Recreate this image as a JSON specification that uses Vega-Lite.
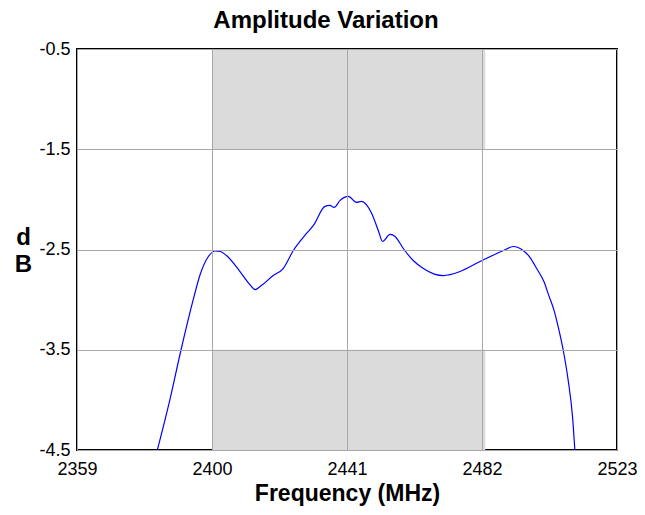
{
  "$schema": "https://vega.github.io/schema/vega-lite/v6.json",
  "width": 540,
  "height": 401,
  "autosize": {"type": "none"},
  "padding": {"left": 77, "top": 49, "right": 28, "bottom": 65},
  "background": "white",
  "config": {
    "view": {"stroke": "#000000", "strokeWidth": 2},
    "font": "Liberation Sans"
  },
  "title": {
    "text": "Amplitude Variation",
    "fontSize": 24,
    "fontWeight": "bold",
    "font": "Liberation Sans",
    "color": "#000000",
    "anchor": "middle",
    "baseline": "alphabetic",
    "offset": 16,
    "dx": -21,
    "dy": 28
  },
  "datasets": {
    "bands": [
      {"x1": 2400, "x2": 2483, "y1": -1.5, "y2": -0.5},
      {"x1": 2400, "x2": 2483, "y1": -4.5, "y2": -3.5}
    ],
    "curve": [
      {"f": 2383.4, "db": -4.5},
      {"f": 2387.2, "db": -4.0},
      {"f": 2390.6, "db": -3.5},
      {"f": 2394.3, "db": -3.0},
      {"f": 2396.4, "db": -2.75},
      {"f": 2398.9, "db": -2.57},
      {"f": 2400.9, "db": -2.515},
      {"f": 2402.5, "db": -2.52},
      {"f": 2404.4, "db": -2.56},
      {"f": 2408.5, "db": -2.72},
      {"f": 2411.5, "db": -2.85},
      {"f": 2413.1, "db": -2.90},
      {"f": 2415.0, "db": -2.86},
      {"f": 2418.6, "db": -2.76},
      {"f": 2421.6, "db": -2.69},
      {"f": 2424.7, "db": -2.51},
      {"f": 2428.7, "db": -2.34},
      {"f": 2430.8, "db": -2.26},
      {"f": 2434.3, "db": -2.07},
      {"f": 2435.8, "db": -2.06},
      {"f": 2437.1, "db": -2.08},
      {"f": 2438.9, "db": -2.01},
      {"f": 2441.4, "db": -1.97},
      {"f": 2443.9, "db": -2.03},
      {"f": 2445.4, "db": -2.02},
      {"f": 2448.5, "db": -2.14},
      {"f": 2450.5, "db": -2.31},
      {"f": 2451.8, "db": -2.42},
      {"f": 2454.1, "db": -2.35},
      {"f": 2455.6, "db": -2.37},
      {"f": 2458.1, "db": -2.49},
      {"f": 2461.1, "db": -2.61},
      {"f": 2464.2, "db": -2.69},
      {"f": 2467.5, "db": -2.745},
      {"f": 2470.3, "db": -2.76},
      {"f": 2475.3, "db": -2.72},
      {"f": 2481.4, "db": -2.62},
      {"f": 2488.5, "db": -2.51},
      {"f": 2491.5, "db": -2.47},
      {"f": 2494.5, "db": -2.51},
      {"f": 2496.6, "db": -2.58},
      {"f": 2498.6, "db": -2.69},
      {"f": 2500.8, "db": -2.82},
      {"f": 2502.3, "db": -2.96},
      {"f": 2503.9, "db": -3.11},
      {"f": 2505.2, "db": -3.28},
      {"f": 2506.7, "db": -3.51},
      {"f": 2508.2, "db": -3.81},
      {"f": 2509.5, "db": -4.17},
      {"f": 2510.2, "db": -4.5}
    ]
  },
  "layer": [
    {
      "data": {"name": "bands"},
      "mark": {"type": "rect", "color": "#dbdbdb"},
      "encoding": {
        "x": {
          "field": "x1", "type": "quantitative",
          "scale": {"domain": [2359, 2523], "nice": false, "zero": false},
          "axis": {
            "values": [2359, 2400, 2441, 2482, 2523],
            "labelExpr": "toString(datum.value)",
            "title": "Frequency (MHz)",
            "titleFontSize": 23,
            "titleFontWeight": "bold",
            "titleColor": "#000000",
            "titleBaseline": "alphabetic",
            "titleY": 50,
            "labelFontSize": 18,
            "labelColor": "#000000",
            "labelPadding": 10,
            "labelFlush": false,
            "ticks": false,
            "domain": false,
            "grid": true,
            "gridColor": "#a8a8a8",
            "gridWidth": 1,
            "gridOpacity": 1,
            "zindex": 1
          }
        },
        "x2": {"field": "x2"},
        "y": {
          "field": "y1", "type": "quantitative",
          "scale": {"domain": [-4.5, -0.5], "nice": false, "zero": false},
          "axis": {
            "values": [-4.5, -3.5, -2.5, -1.5, -0.5],
            "labelExpr": "toString(datum.value)",
            "title": ["d", "B"],
            "titleAngle": 0,
            "titleAlign": "center",
            "titleBaseline": "middle",
            "titleX": -54,
            "titleY": 188,
            "titleLineHeight": 27,
            "titleFontSize": 24,
            "titleFontWeight": "bold",
            "titleColor": "#000000",
            "labelFontSize": 18,
            "labelColor": "#000000",
            "labelPadding": 7,
            "labelFlush": false,
            "ticks": false,
            "domain": false,
            "grid": true,
            "gridColor": "#a8a8a8",
            "gridWidth": 1,
            "gridOpacity": 1,
            "zindex": 1
          }
        },
        "y2": {"field": "y2"}
      }
    },
    {
      "data": {"name": "curve"},
      "mark": {"type": "line", "color": "#0000ff", "strokeWidth": 1.2, "interpolate": "monotone", "clip": true},
      "encoding": {
        "x": {"field": "f", "type": "quantitative"},
        "y": {"field": "db", "type": "quantitative"}
      }
    }
  ]
}
